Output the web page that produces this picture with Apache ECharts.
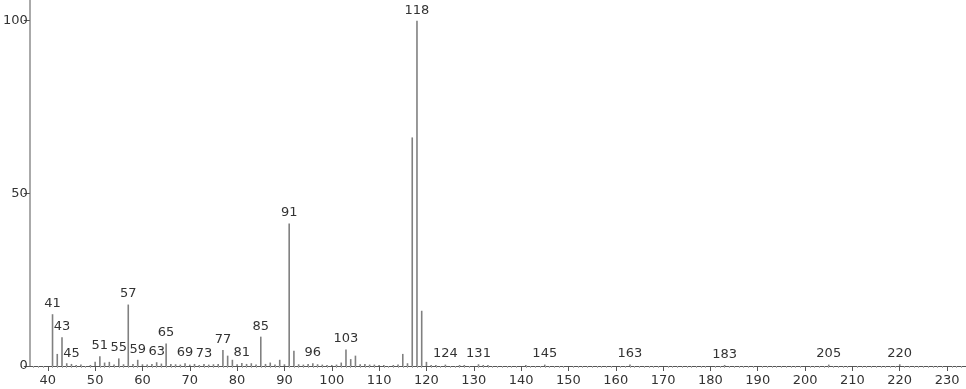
<!DOCTYPE html>
<html><head><meta charset="utf-8">
<script src="https://cdn.jsdelivr.net/npm/echarts@6/dist/echarts.min.js"></script>
<style>html,body{margin:0;padding:0;background:#fff}#c{width:966px;height:389px}</style>
</head><body><div id="c"></div>
<script>
const mz = [41,42,43,44,45,46,47,49,50,51,52,53,54,55,56,57,58,59,60,61,62,63,64,65,66,67,68,69,70,71,72,73,74,75,76,77,78,79,80,81,82,83,84,85,86,87,88,89,90,91,92,93,94,95,96,97,98,99,100,101,102,103,104,105,106,107,108,109,110,111,113,114,115,116,117,118,119,120,121,122,124,127,128,131,132,133,141,145,163,183,205,220];
const intensity = [15,3.5,8.3,0.8,0.6,0.3,0.4,0.3,1.2,2.8,1.0,1.2,0.4,2.2,0.5,17.8,0.6,1.8,0.5,0.4,0.6,1.1,0.7,6.5,0.6,0.5,0.4,0.8,0.4,0.6,0.3,0.6,0.4,0.5,0.6,4.6,3.0,1.8,0.5,0.9,0.6,0.8,0.4,8.5,0.6,1.0,0.4,1.8,0.5,41.3,4.4,0.5,0.4,0.6,0.8,0.5,0.4,0.3,0.3,0.4,1.0,4.8,2.0,3.0,0.5,0.6,0.4,0.4,0.3,0.3,0.3,0.4,3.5,0.8,66.2,100,16,1.2,0.3,0.3,0.4,0.3,0.3,0.5,0.3,0.3,0.3,0.4,0.4,0.3,0.4,0.5];
const labeled = [41,43,45,51,55,57,59,63,65,69,73,77,81,85,91,96,103,118,124,131,145,163,183,205,220];
const xTicks = [40,50,60,70,80,90,100,110,120,130,140,150,160,170,180,190,200,210,220,230];
const xMinorTicks = [];
for (let v = 37; v <= 233; v++) if (v % 10 !== 0) xMinorTicks.push(v);
const yTicks = [0,50,100];

const font = 'DejaVu Sans';
const data = mz.map((m, i) => ({
  value: [m, intensity[i]],
  label: { show: labeled.includes(m) }
}));

const chart = echarts.init(document.getElementById('c'));
chart.setOption({
  animation: false,
  grid: { left: 28, right: 0, top: 0, bottom: 23 },
  xAxis: [{
    type: 'value', min: 36.2, max: 234,
    splitLine: { show: false },
    axisLine: { lineStyle: { color: '#555', width: 1 } },
    axisTick: { length: 5, lineStyle: { color: '#555' }, customValues: xTicks },
    axisLabel: { customValues: xTicks, color: '#333', fontFamily: font, fontSize: 13, margin: 8 }
  }, {
    type: 'value', min: 36.2, max: 234, position: 'bottom',
    splitLine: { show: false },
    axisLine: { show: false },
    axisTick: { length: 2, lineStyle: { color: '#aaa' }, customValues: xMinorTicks },
    axisLabel: { show: false }
  }],
  yAxis: {
    type: 'value', min: 0, max: 106,
    splitLine: { show: false },
    axisLine: { show: true, lineStyle: { color: '#aaa', width: 2 } },
    axisTick: { show: true, length: 6, lineStyle: { color: '#555' }, customValues: yTicks },
    axisLabel: { customValues: yTicks, color: '#333', fontFamily: font, fontSize: 13, margin: 2 }
  },
  series: [{
    type: 'bar',
    xAxisIndex: 0,
    barWidth: 1.6,
    itemStyle: { color: '#808080' },
    label: { position: 'top', distance: 4, color: '#333', fontFamily: font, fontSize: 13,
      formatter: p => String(p.value[0]) },
    data: data
  }]
});
</script></body></html>
